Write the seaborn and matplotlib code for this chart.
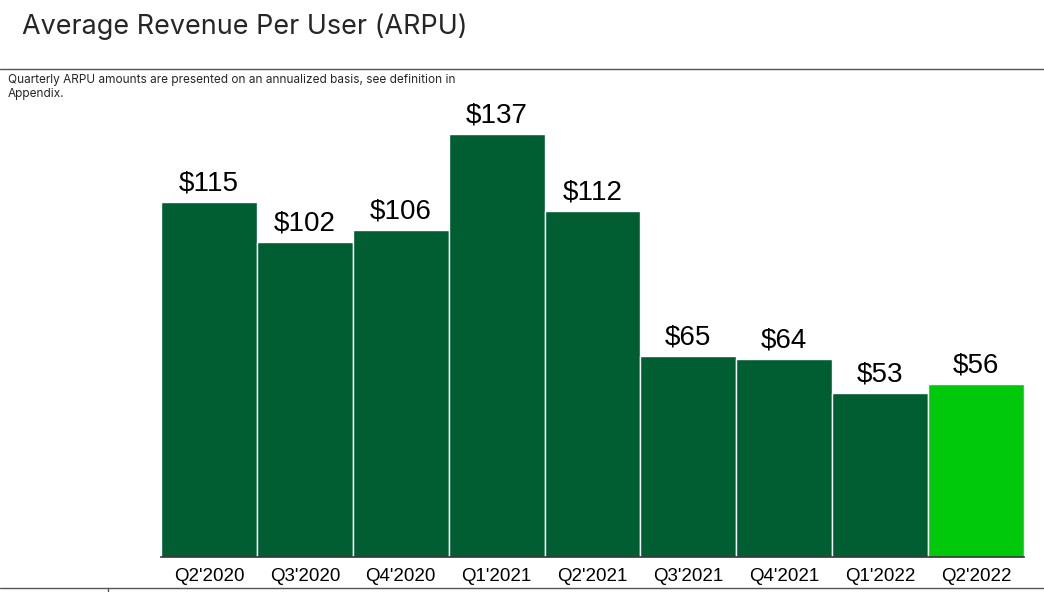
import matplotlib
matplotlib.use("Agg")
import matplotlib.pyplot as plt
import seaborn as sns
import pandas as pd

quarters = ["Q2'2020", "Q3'2020", "Q4'2020", "Q1'2021", "Q2'2021",
            "Q3'2021", "Q4'2021", "Q1'2022", "Q2'2022"]
arpu = [115, 102, 106, 137, 112, 65, 64, 53, 56]
bar_colors = ["#005E32"] * 8 + ["#00C80A"]

df = pd.DataFrame({"quarter": quarters, "arpu": arpu})

sns.set_theme(style="white")
plt.rcParams["font.family"] = ["Liberation Sans", "DejaVu Sans"]

fig = plt.figure(figsize=(10.44, 5.92), dpi=100)
ax = fig.add_axes([161 / 1044, 35 / 592, 863 / 1044, 477 / 592])

sns.barplot(data=df, x="quarter", y="arpu", hue="quarter", palette=bar_colors,
            legend=False, width=1.0, saturation=1, edgecolor="white",
            linewidth=1, ax=ax)

for i, v in enumerate(arpu):
    ax.text(i, v + 1.8, f"${v}", ha="center", va="bottom", fontsize=20, color="black")

ax.set_xlim(-0.5, len(quarters) - 0.5)
ax.set_ylim(0, 154.5)
ax.set_xlabel("")
ax.set_ylabel("")
ax.set_yticks([])
for s in ["top", "right", "left"]:
    ax.spines[s].set_visible(False)
ax.spines["bottom"].set_color("#333333")
ax.spines["bottom"].set_linewidth(1.2)
ax.tick_params(axis="x", length=0, pad=8)
for lbl in ax.get_xticklabels():
    lbl.set_fontsize(13.5)
    lbl.set_color("black")

fig.text(22 / 1044, 1 - 27 / 592, "Average Revenue Per User (ARPU)",
         fontsize=19.4, family=["Inter", "DejaVu Sans"], va="center", ha="left")
fig.text(8 / 1044, 1 - 74 / 592,
         "Quarterly ARPU amounts are presented on an annualized basis, see definition in\nAppendix.",
         fontsize=8.5, family=["Inter", "DejaVu Sans"], va="top", ha="left", linespacing=1.2)

fig.add_artist(plt.Line2D([0, 1], [1 - 69 / 592, 1 - 69 / 592], color="#555555", lw=1))
fig.add_artist(plt.Line2D([0, 1], [1 - 588 / 592, 1 - 588 / 592], color="#555555", lw=1))
fig.add_artist(plt.Line2D([108 / 1044, 108 / 1044], [0, 1 - 588 / 592], color="#555555", lw=1))

fig.savefig("out.png", dpi=100)
